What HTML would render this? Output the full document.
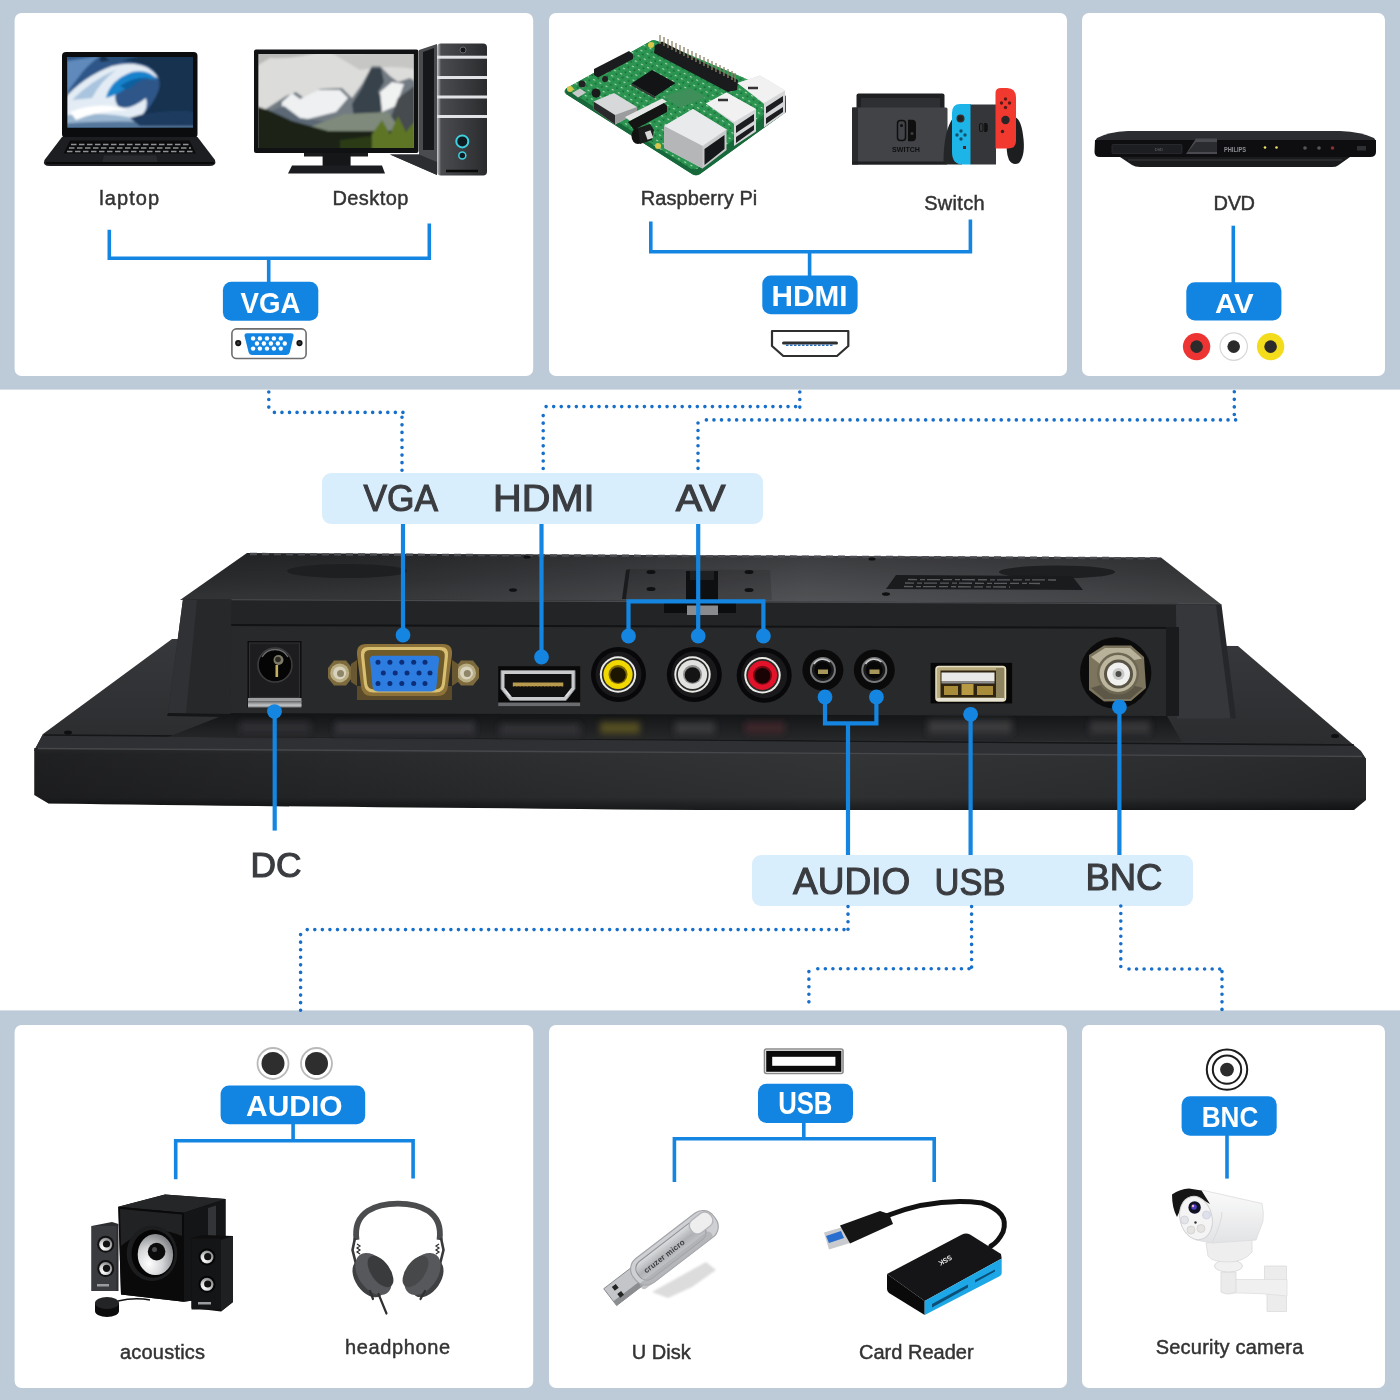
<!DOCTYPE html>
<html lang="en">
<head>
<meta charset="utf-8">
<title>Monitor interface connections</title>
<style>
html,body{margin:0;padding:0;background:#fff;}
body{width:1400px;height:1400px;overflow:hidden;font-family:"Liberation Sans",sans-serif;}
svg{display:block;}
text{font-family:"Liberation Sans",sans-serif;}
.lbl{font-size:20px;fill:#333;stroke:#333;stroke-width:.45;text-anchor:middle;}
.big{font-size:37.5px;fill:#3a3c40;stroke:#3a3c40;stroke-width:1.1;text-anchor:middle;}
.badge{font-size:29px;font-weight:700;fill:#fff;text-anchor:middle;}
.ln{stroke:#1486e2;stroke-width:3.6;fill:none;}
.ln2{stroke:#1486e2;stroke-width:4.2;fill:none;}
.dot{stroke:#186fca;stroke-width:3.6;stroke-linecap:round;stroke-dasharray:0 7.56;fill:none;}
</style>
</head>
<body>
<svg style="will-change:transform" width="1400" height="1400" viewBox="0 0 1400 1400">
<defs>

<linearGradient id="gSlab" x1="0" y1="0" x2="0" y2="1">
<stop offset="0" stop-color="#323335"/><stop offset=".1" stop-color="#2b2c2e"/><stop offset=".8" stop-color="#262729"/><stop offset=".9" stop-color="#1b1c1d"/><stop offset="1" stop-color="#121314"/>
</linearGradient>
<linearGradient id="gTopH" x1="0" y1="0" x2="0" y2="1">
<stop offset="0" stop-color="#000" stop-opacity=".22"/><stop offset=".5" stop-color="#000" stop-opacity=".05"/><stop offset="1" stop-color="#fff" stop-opacity=".04"/>
</linearGradient>
<linearGradient id="gSlabH" x1="0" y1="0" x2="1" y2="0">
<stop offset="0" stop-color="#000" stop-opacity=".28"/><stop offset=".25" stop-color="#000" stop-opacity=".05"/><stop offset=".6" stop-color="#fff" stop-opacity=".04"/><stop offset="1" stop-color="#000" stop-opacity=".06"/>
</linearGradient>
<linearGradient id="gBase" x1="0" y1="0" x2="0" y2="1">
<stop offset="0" stop-color="#37383b"/><stop offset="1" stop-color="#2a2b2d"/>
</linearGradient>
<linearGradient id="gTop" gradientUnits="userSpaceOnUse" x1="180" y1="0" x2="1226" y2="0">
<stop offset="0" stop-color="#2b2c2e"/><stop offset=".18" stop-color="#2f3032"/><stop offset=".42" stop-color="#3e3f42"/><stop offset=".6" stop-color="#4b4c4f"/><stop offset=".8" stop-color="#424346"/><stop offset="1" stop-color="#38393b"/>
</linearGradient>
<linearGradient id="gFloor" x1="0" y1="0" x2="0" y2="1">
<stop offset="0" stop-color="#131415"/><stop offset=".45" stop-color="#1d1e20"/><stop offset="1" stop-color="#28292b"/>
</linearGradient>
<filter id="b3" x="-20%" y="-50%" width="140%" height="200%"><feGaussianBlur stdDeviation="3"/></filter>
<filter id="b1" x="-10%" y="-10%" width="120%" height="120%"><feGaussianBlur stdDeviation="1"/></filter>
<filter id="b2" x="-10%" y="-10%" width="120%" height="120%"><feGaussianBlur stdDeviation="2"/></filter>

<linearGradient id="gSea" x1="0" y1="0" x2="1" y2="1">
<stop offset="0" stop-color="#7fa6cc"/><stop offset=".45" stop-color="#3f78ad"/><stop offset="1" stop-color="#16324f"/>
</linearGradient>
<linearGradient id="gSky" x1="0" y1="0" x2="0" y2="1">
<stop offset="0" stop-color="#c9c9c9"/><stop offset=".5" stop-color="#e4e4e2"/><stop offset="1" stop-color="#b9bdb8"/>
</linearGradient>
<linearGradient id="gTower" x1="0" y1="0" x2="1" y2="0">
<stop offset="0" stop-color="#c9cacc"/><stop offset=".08" stop-color="#4a4b4e"/><stop offset=".5" stop-color="#3c3d40"/><stop offset="1" stop-color="#2a2b2d"/>
</linearGradient>
<clipPath id="cLap"><rect x="67.5" y="57" width="125.5" height="70.5"/></clipPath>
<clipPath id="cMon"><rect x="258.6" y="54" width="155" height="94"/></clipPath>

<radialGradient id="gCone" cx=".32" cy=".72" r=".85">
<stop offset="0" stop-color="#ffffff"/><stop offset=".45" stop-color="#d4d5d7"/><stop offset="1" stop-color="#6f7174"/>
</radialGradient>
<linearGradient id="gUsbBody" x1="0" y1="0" x2="0" y2="1">
<stop offset="0" stop-color="#dcdddf"/><stop offset=".5" stop-color="#aeb0b3"/><stop offset="1" stop-color="#c9cacd"/>
</linearGradient>
<linearGradient id="gCam" x1="0" y1="0" x2="0" y2="1">
<stop offset="0" stop-color="#fbfbfb"/><stop offset="1" stop-color="#e2e3e5"/>
</linearGradient>
<pattern id="pSpeck" width="7" height="6" patternUnits="userSpaceOnUse" patternTransform="rotate(28)">
<rect x="1" y="1" width="2.2" height="1.1" fill="#d9ead9" opacity=".75"/><rect x="4.5" y="3.6" width="1.4" height="1.2" fill="#0f3d22" opacity=".8"/>
</pattern>
<clipPath id="cPcb"><path d="M650,41.5 Q653,39.5 657,41 L786,96 L697,169 Q694,171 690,169 L566,88.5 Z"/></clipPath>
<!--DEFS-->
</defs>

<!-- ===== bands and cards ===== -->
<rect x="0" y="0" width="1400" height="389.6" fill="#bdcad8"/>
<rect x="0" y="1010.4" width="1400" height="389.6" fill="#bdcad8"/>
<g fill="#fff">
<rect x="14.6" y="13" width="518.6" height="363" rx="7"/>
<rect x="549" y="13" width="518" height="363" rx="7"/>
<rect x="1082" y="13" width="303" height="363" rx="7"/>
<rect x="14.6" y="1025" width="518.6" height="363" rx="7"/>
<rect x="549" y="1025" width="518" height="363" rx="7"/>
<rect x="1082" y="1025" width="303" height="363" rx="7"/>
</g>


<!-- ===== card 1 : VGA sources ===== -->
<g id="card1">
<!-- laptop -->
<rect x="62" y="52" width="135.5" height="86" rx="4" fill="#0b0c0e"/>
<rect x="67.5" y="57" width="125.5" height="70.5" fill="url(#gSea)"/>
<g clip-path="url(#cLap)">
<g filter="url(#b1)">
<rect x="60" y="50" width="140" height="85" fill="#2f5788"/>
<path d="M60,62 L100,56 Q86,66 78,78 Q68,90 60,104 Z" fill="#5f8abb"/>
<path d="M100,50 L200,50 L200,135 L118,135 Q148,116 158,92 Q164,76 148,66 Q128,58 100,62 Z" fill="#14304f"/>
<path d="M100,50 L170,50 Q140,54 112,64 Z" fill="#2c517c"/>
<path d="M60,104 Q80,78 112,66 Q146,58 158,78 Q140,70 124,82 Q110,94 118,106 Q128,112 146,98 Q152,120 112,127 L60,135 Z" fill="#e3ecf4"/>
<path d="M72,100 Q92,80 116,70 Q100,82 92,98 Z" fill="#a9c4de"/>
<path d="M106,98 Q110,80 132,72 Q150,69 157,80 Q142,76 130,85 Q118,95 106,98 Z" fill="#1683cc"/>
<path d="M120,86 Q134,76 150,78 Q138,80 128,90 Z" fill="#0d5f9f"/>
<path d="M60,116 Q104,110 140,120 L200,116 L200,135 L60,135 Z" fill="#9ab6d0"/>
<path d="M60,124 Q110,119 200,124 L200,135 L60,135 Z" fill="#54779c"/>
<path d="M130,118 Q160,108 200,112 L200,126 L140,126 Z" fill="#1c3a5e"/>
<path d="M70,112 Q100,100 128,110 Q100,110 76,120 Z" fill="#ffffff"/>
</g>
</g>
<path d="M62,137 L197.5,137 L215,160 Q217,166 209,166 L50,166 Q42,166 44.5,160 Z" fill="#1d1e21"/>
<path d="M70,140.5 L189.5,140.5 L196,153.5 L63.5,153.5 Z" fill="#0c0c0d"/>
<path d="M71,144.5 L189,144.5 M69,148 L191,148 M67,151.5 L193,151.5" stroke="#8f9296" stroke-width="1.6" stroke-dasharray="5.5 2.5" fill="none"/>
<path d="M104,155.5 L156,155.5 L158,163 L102,163 Z" fill="#2a2b2f"/>
<path d="M46,163 L214,163" stroke="#090909" stroke-width="2"/>
<!-- desktop monitor -->
<rect x="254" y="49.5" width="164.5" height="103.5" rx="2" fill="#101113"/>
<rect x="258.6" y="54" width="155" height="94" fill="url(#gSky)"/>
<g clip-path="url(#cMon)">
<g filter="url(#b1)">
<rect x="250" y="48" width="170" height="105" fill="#dcdcda"/>
<path d="M250,48 L330,48 Q300,60 270,58 L250,70 Z" fill="#b9b9b7"/>
<path d="M330,52 Q360,56 380,50 L420,50 L420,70 Q390,64 360,70 Z" fill="#c6c6c4"/>
<path d="M258,114 L286,96 L296,92 L304,98 L320,89 L342,88 L352,98 L362,84 L372,66 L380,66 L390,76 L398,82 L410,78 L420,84 L420,150 L258,150 Z" fill="#727a82"/>
<path d="M282,102 L292,93 L300,99 L318,90 L340,90 L348,98 L336,112 L304,120 L282,114 Z" fill="#eef0f1"/>
<path d="M352,104 L362,88 L371,68 L381,68 L384,82 L378,92 L386,104 L374,120 L354,118 Z" fill="#39424b"/>
<path d="M380,92 L392,82 L404,84 L396,106 L382,112 Z" fill="#f0f1f1"/>
<path d="M398,98 L420,82 L420,142 L400,138 L390,120 Z" fill="#454b4f"/>
<path d="M268,112 L284,106 L300,118 L330,122 L310,132 L280,124 Z" fill="#5b6875"/>
<path d="M302,130 L344,114 L388,112 L398,126 L372,138 L322,138 Z" fill="#7f8a7c"/>
<path d="M250,104 L268,110 L292,121 L328,131 L420,131 L420,152 L250,152 Z" fill="#1a2214"/>
<path d="M372,134 L382,120 L390,134 L398,116 L406,132 L414,122 L420,128 L420,152 L372,152 Z" fill="#5f7428"/>
<path d="M340,140 L372,136 L372,150 L340,150 Z" fill="#2c3a18"/>
</g>
</g>
<rect x="304" y="153" width="64" height="3.5" fill="#1a1b1d"/>
<rect x="322.6" y="153" width="28" height="16" fill="#151618"/>
<path d="M292,165.5 L382,165.5 L385,173.5 L288,173.5 Z" fill="#1c1d20"/>
<!-- tower -->
<path d="M419,50 L437,44 L437,175 L390,154.5 L419,154.5 Z" fill="#4a4b4f"/>
<path d="M390,154.5 L419,154.5 L437,162 L437,175 Z" fill="#2c2d30"/>
<path d="M423,52 L434,48 L434,150 L423,150 Z" fill="#16171a"/>
<rect x="437" y="43.5" width="50" height="132" rx="4" fill="url(#gTower)"/>
<rect x="437" y="55.7" width="50" height="3" fill="#e1e3e6"/>
<rect x="437" y="76" width="50" height="3" fill="#e1e3e6"/>
<rect x="437" y="95.5" width="50" height="3" fill="#e1e3e6"/>
<rect x="437" y="115" width="50" height="3" fill="#e1e3e6"/>
<circle cx="462.3" cy="141.4" r="6" fill="#0e1c22" stroke="#3fd0e0" stroke-width="2"/>
<circle cx="462.3" cy="155.4" r="3.5" fill="#0e1c22" stroke="#3fd0e0" stroke-width="1.5"/>
<circle cx="463" cy="50" r="3" fill="#15161a" stroke="#777" stroke-width=".8"/>
<path d="M446,171 L478,171" stroke="#090909" stroke-width="2.5"/>
<!-- labels -->
<text class="lbl" x="129.2" y="205.3" textLength="60" lengthAdjust="spacing">laptop</text>
<text class="lbl" x="370.4" y="205.3" textLength="76" lengthAdjust="spacing">Desktop</text>
<path class="ln" d="M109.3,229.7 V258.2 H429.3 V223.5 M268.7,258.2 V283"/>
<rect x="222.9" y="281.8" width="95.4" height="38.9" rx="8.5" fill="#1285e2"/>
<text class="badge" x="270.6" y="313.2" textLength="60" lengthAdjust="spacingAndGlyphs" style="font-size:29.8px">VGA</text>
<!-- VGA icon -->
<rect x="231.9" y="328.9" width="74.2" height="29.6" rx="4.5" fill="#fff" stroke="#6d6d6d" stroke-width="1.6"/>
<path d="M247,333.3 L291,333.3 Q294.2,333.3 293.5,336.3 L289.8,352.3 Q289.2,354.9 286.4,354.9 L252,354.9 Q249.2,354.9 248.6,352.3 L244.6,336.3 Q243.9,333.3 247,333.3 Z" fill="#1285e2"/>
<g fill="#fff"><circle cx="253.1" cy="338.4" r="2.2"/><circle cx="259.9" cy="338.4" r="2.2"/><circle cx="267" cy="338.4" r="2.2"/><circle cx="273.9" cy="338.4" r="2.2"/><circle cx="280.8" cy="338.4" r="2.2"/><circle cx="257" cy="343.5" r="2.2"/><circle cx="263.9" cy="343.5" r="2.2"/><circle cx="270.9" cy="343.5" r="2.2"/><circle cx="277.9" cy="343.5" r="2.2"/><circle cx="284.8" cy="343.5" r="2.2"/><circle cx="253.1" cy="348.6" r="2.2"/><circle cx="259.9" cy="348.6" r="2.2"/><circle cx="267" cy="348.6" r="2.2"/><circle cx="273.9" cy="348.6" r="2.2"/><circle cx="280.8" cy="348.6" r="2.2"/></g>
<circle cx="238.2" cy="343.1" r="3.1" fill="#111"/><circle cx="238.2" cy="343.1" r="1.5" fill="#3a3a3a"/>
<circle cx="299.5" cy="343.1" r="3.1" fill="#111"/><circle cx="299.5" cy="343.1" r="1.5" fill="#3a3a3a"/>
</g>
<!--CARD1-->

<!-- ===== card 2 : HDMI sources ===== -->
<g id="card2">
<!-- raspberry pi -->
<g id="rpi">
<path d="M650,41.5 Q653,39.5 657,41 L786,96 L786,112 L700,174 Q696,176.5 692,174 L566,94 Q563,91.5 566,88.5 Z" fill="#1c7a3e"/>
<path d="M650,41.5 Q653,39.5 657,41 L786,96 L697,169 Q694,171 690,169 L566,88.5 Z" fill="#2a9450"/>
<path d="M566,89 L692,169.5 L697,169 L786,100 L786,112 L700,174 Q696,176.5 692,174 L566,94 Z" fill="#17683a"/>
<rect x="560" y="36" width="230" height="140" fill="url(#pSpeck)" clip-path="url(#cPcb)"/>
<circle cx="651" cy="45" r="3" fill="#d8c64a"/><circle cx="570" cy="89" r="3" fill="#d8c64a"/><circle cx="658" cy="146" r="3" fill="#d8c64a"/>
<!-- gpio header -->
<path d="M655,45.5 L662,41.5 L738,80 L737,90 L728,92 L654,53 Z" fill="#1a1b1d"/>
<path d="M660,44 V35 M664,46 V37 M668,48 V39 M672,50 V41 M676,52 V43 M680,54 V45 M684,56 V47 M688,58 V49 M692,60 V51 M696,62 V53 M700,64 V55 M704,66 V57 M708,68 V59 M712,70 V61 M716,72 V63 M720,74 V65 M724,76 V67 M728,78 V69 M732,80 V71 M735,82 V73" stroke="#8a8468" stroke-width="1.3" fill="none"/>
<!-- camera connector -->
<path d="M594,69 L629,51 L633,54.5 L633,59 L598,77.5 L594,75 Z" fill="#1b1c1e"/>
<!-- cpu -->
<path d="M631.5,83.5 L652,70 L675.5,83 L655,96.5 Z" fill="#131416"/>
<path d="M631.5,83.5 L655,96.5 L655,98.5 L631.5,85.5 Z" fill="#333"/>
<!-- small parts -->
<path d="M664,96 L690,88 L706,97 L680,108 Z" fill="#3f8f5a"/>
<circle cx="582" cy="84" r="3.5" fill="#222"/><circle cx="605" cy="79" r="3" fill="#222"/><circle cx="596" cy="93" r="4.5" fill="#1a1a1a"/>
<path d="M572,93 L580,88.5 L586,92.5 L578,97.5 Z" fill="#c9c9c9"/>
<!-- hdmi -->
<path d="M593.5,101.5 L614,93 L637,107 L637,113 L615,124.5 L593.5,109 Z" fill="#d7d8da"/>
<path d="M593.5,101.5 L615,115 L615,124.5 L593.5,109 Z" fill="#2a2a2c"/>
<path d="M615,115 L637,107 L637,113 L615,124.5 Z" fill="#9b9c9e"/>
<!-- csi + audio -->
<path d="M625,117 L662,98.5 L667,101.5 L630,121 Z" fill="#e6e6e6"/>
<path d="M628,122 L664,103 L667,106 L667,112 L634,130 Z" fill="#141414"/>
<ellipse cx="638" cy="136" rx="6.5" ry="8" fill="#111"/>
<path d="M638,128 L650,124 L654,130 L652,140 L640,144 Z" fill="#1c1c1c"/>
<rect x="646" y="131" width="6" height="8" fill="#d8d8d8" transform="rotate(-20 649 135)"/>
<!-- ethernet -->
<path d="M664,126 L693,109 L726.5,129.5 L726.5,150 L702.5,168.5 L664,148 Z" fill="#c8c9cb"/>
<path d="M664,126 L693,109 L726.5,129.5 L702.5,146 Z" fill="#e9eaeb"/>
<path d="M664,126 L702.5,146 L702.5,168.5 L664,148 Z" fill="#b5b6b8"/>
<path d="M704.5,149 L724.5,135 L724.5,149 L704.5,165 Z" fill="#16171a"/>
<!-- usb stacks -->
<path d="M706,103.5 L726.5,92.5 L756,109 L756,131.5 L734,146 L734,124 Z" fill="#d5d6d8"/>
<path d="M706,103.5 L726.5,92.5 L756,109 L734,122 Z" fill="#f1f1f2"/>
<path d="M736,126 L754,114 L754,121 L736,133 Z M736,137 L754,125 L754,130 L736,143 Z" fill="#1c1d20"/>
<path d="M737.5,83 L760,75.5 L785,90.5 L785,113 L764,127.5 L764,104 Z" fill="#d5d6d8"/>
<path d="M737.5,83 L760,75.5 L785,90.5 L764,103 Z" fill="#f1f1f2"/>
<path d="M766,107 L783,96 L783,102 L766,113.5 Z M766,118 L783,107 L783,112 L766,124 Z" fill="#1c1d20"/>
<path d="M718,100 h10 M748,88 h10" stroke="#333" stroke-width="2.5"/>
</g>
<!-- switch -->
<g id="switch">
<rect x="856.5" y="93.5" width="88" height="18" rx="2" fill="#1f2022"/>
<rect x="861" y="98" width="79" height="10" fill="#2e2f32"/>
<rect x="852" y="107.5" width="95.5" height="57" rx="1.5" fill="#424346"/>
<rect x="852" y="107.5" width="6" height="57" fill="#2a2b2d"/>
<rect x="852" y="161.5" width="95.5" height="3" fill="#1f2022"/>
<rect x="897.5" y="120.5" width="8" height="20" rx="3" fill="none" stroke="#0f0f10" stroke-width="1.5"/>
<path d="M908,119.7 h4 a4,4 0 0 1 4,4 v13.5 a4,4 0 0 1 -4,4 h-4 Z" fill="#0f0f10"/>
<circle cx="901.5" cy="125.5" r="1.5" fill="#0f0f10"/><circle cx="912" cy="133.5" r="1.5" fill="#3b3c3f"/>
<text x="906" y="152" font-size="6.5" font-weight="700" fill="#0f0f10" text-anchor="middle" textLength="28" lengthAdjust="spacingAndGlyphs">SWITCH</text>
<!-- grip -->
<path d="M953,118 Q944,130 943.5,160 Q943.5,165 950,164.5 L962,164.5 L962,118 Z" fill="#242527"/>
<path d="M1013,116 Q1021,118 1023,135 Q1026,155 1019,163 Q1013,166 1009,160 Q1005,150 1008,140 Z" fill="#1d1e20"/>
<path d="M960,104 L971,104 L971,164.5 L963,164.5 Q952,164.5 952,152 L952,113 Q952,104 960,104 Z" fill="#1db4e8"/>
<rect x="970.5" y="104.5" width="25.5" height="60" fill="#35363a"/>
<path d="M995.5,93 Q995.5,88 1001,88 L1007,88 Q1016,88 1016,98 L1016,141 Q1016,148.5 1008,148.5 L995.5,148.5 Z" fill="#f2392f"/>
<circle cx="960.5" cy="118.5" r="4" fill="#3a2f2c"/><circle cx="960.5" cy="118.5" r="2.5" fill="#222"/>
<circle cx="961" cy="131" r="1.7" fill="#14506a"/><circle cx="957" cy="135" r="1.7" fill="#14506a"/><circle cx="965" cy="135" r="1.7" fill="#14506a"/><circle cx="961" cy="139" r="1.7" fill="#14506a"/>
<rect x="963" y="146" width="3" height="3" fill="#5a1d1d"/>
<circle cx="1005.5" cy="99" r="1.7" fill="#5a1a17"/><circle cx="1001.5" cy="103" r="1.7" fill="#5a1a17"/><circle cx="1009.5" cy="103" r="1.7" fill="#5a1a17"/><circle cx="1005.5" cy="107.5" r="1.7" fill="#5a1a17"/>
<circle cx="1005.5" cy="120" r="4.2" fill="#2a2526"/><circle cx="1002.5" cy="131.5" r="1.7" fill="#33201f"/>
<rect x="979.5" y="123.5" width="3.5" height="8" rx="1.5" fill="none" stroke="#111" stroke-width="1"/>
<path d="M984.2,123 h1.5 a2,2 0 0 1 2,2 v5 a2,2 0 0 1 -2,2 h-1.5 Z" fill="#111"/>
</g>
<text class="lbl" x="699" y="205" textLength="116.6" lengthAdjust="spacing">Raspberry Pi</text>
<text class="lbl" x="954.4" y="209.5" textLength="60.3" lengthAdjust="spacing">Switch</text>
<path class="ln" d="M650.8,221.6 V251.8 H970.4 V219.5 M809.6,251.8 V277"/>
<rect x="762.3" y="275.4" width="95.3" height="38.9" rx="8.5" fill="#1285e2"/>
<text class="badge" x="809.5" y="306.2" textLength="76" lengthAdjust="spacingAndGlyphs" style="font-size:28.6px">HDMI</text>
<!-- HDMI icon -->
<path d="M772,331 H848.3 V346 L837,356 H783.3 L772,346 Z" fill="#fff" stroke="#2f2f2f" stroke-width="2.2" stroke-linejoin="round"/>
<path d="M783.5,343 H836.5" stroke="#2f2f2f" stroke-width="3" stroke-linecap="round"/>
<path d="M786,345.3 H834" stroke="#2a6fc0" stroke-width="1.4" stroke-dasharray="2.5 1.5"/>
</g>
<!--CARD2-->

<!-- ===== card 3 : AV source ===== -->
<g id="card3">
<path d="M1128,131 L1340,131 Q1362,132 1374,138 L1376,141 L1095,141 L1097,138 Q1108,132 1128,131 Z" fill="#2c2d30"/>
<path d="M1095,140 L1376,140 L1376,152 Q1376,157 1370,157 L1100,157 Q1094.5,157 1094.5,152 Z" fill="#0e0e10"/>
<path d="M1120,157 L1350,157 L1338,165.5 Q1336,167 1332,167 L1140,167 Q1135,167 1132,165 Z" fill="#1a1b1d"/>
<path d="M1128,160 L1342,160" stroke="#3c3d40" stroke-width="1"/>
<rect x="1112" y="144.5" width="70" height="9" rx="1" fill="#1d1e21" stroke="#2f3033" stroke-width=".7"/>
<path d="M1196,138.5 L1217,138.5 L1217,154 L1186,154 Z" fill="#4a4b50"/>
<path d="M1196,142 L1217,142 L1217,152 L1188,152 Z" fill="#2b2c30"/>
<text x="1235" y="151.5" font-size="6.5" font-weight="700" fill="#8d8f94" text-anchor="middle" textLength="22" lengthAdjust="spacingAndGlyphs">PHILIPS</text>
<text x="1159" y="151" font-size="4" fill="#6f7176" text-anchor="middle">DVD</text>
<circle cx="1265" cy="147.5" r="1.3" fill="#e8e36a"/><circle cx="1276.5" cy="147.5" r="1.3" fill="#e8e36a"/>
<circle cx="1305" cy="148" r="1.8" fill="#55565a"/><circle cx="1319" cy="148" r="1.8" fill="#55565a"/><circle cx="1332.5" cy="148" r="1.8" fill="#8a3030"/>
<rect x="1357" y="146" width="9" height="4.5" fill="#2f3034"/>
<text class="lbl" x="1234.3" y="210" textLength="41.5" lengthAdjust="spacing">DVD</text>
<path class="ln" d="M1233.3,225.7 V283"/>
<rect x="1186.3" y="282.3" width="95.1" height="38.3" rx="8.5" fill="#1285e2"/>
<text class="badge" x="1234.4" y="313" textLength="38.7" lengthAdjust="spacingAndGlyphs" style="font-size:27px">AV</text>
<circle cx="1196.6" cy="346.6" r="13.7" fill="#ee3432"/><circle cx="1196.6" cy="346.6" r="6.3" fill="#2b2b2b"/>
<circle cx="1233.7" cy="346.6" r="13.7" fill="#fff" stroke="#d7d7d7" stroke-width="1.2"/><circle cx="1233.7" cy="346.6" r="6.3" fill="#2b2b2b"/>
<circle cx="1270.6" cy="346.6" r="13.7" fill="#f3dc1b"/><circle cx="1270.6" cy="346.6" r="6.3" fill="#2b2b2b"/>
</g>
<!--CARD3-->

<!-- ===== monitor body ===== -->
<g id="monitor">
<!-- base (back of bezel) -->
<path d="M172,639 L1238,646 L1360,750.5 L1366,759 L34,751 L43,734 Z" fill="url(#gBase)"/>
<!-- rim -->
<path d="M43,734 L170,736 L1180,741 L1352,744 L1361,751 L1366,759 L34,751 Z" fill="#2f3033"/>
<path d="M44,735 L1354,745" stroke="#151617" stroke-width="1.6" fill="none"/>
<!-- front slab -->
<path d="M34.3,748 L1361,756 L1366,759 L1366,800 L1354,810 L700,810 Q300,807 48.6,803.5 L34.3,795 Z" fill="url(#gSlab)"/>
<path d="M34.3,748 L1361,756 L1366,759 L1366,800 L1354,810 L700,810 Q300,807 48.6,803.5 L34.3,795 Z" fill="url(#gSlabH)"/>
<path d="M38,748.5 L1362,756.5" stroke="#47484b" stroke-width="1.4" fill="none"/>
<!-- raised box: top surface -->
<path d="M247,553 L1161,557.5 L1222,605 L180,600 Z" fill="url(#gTop)"/>
<path d="M247,553 L1161,557.5 L1222,605 L180,600 Z" fill="url(#gTopH)"/>
<path d="M250,554 L1158,558.3" stroke="#4a4b50" stroke-width="2.4" stroke-dasharray="7 5" fill="none"/>
<!-- front face band -->
<path d="M183,599 L1220,604 L1222,628 L183,626 Z" fill="#232426"/>
<!-- recess back wall -->
<path d="M230,624 L1180,627 L1180,716 L229,714 Z" fill="#28292b"/>
<path d="M230,599 L1178,603 L1178,628 L230,625 Z" fill="#232426"/>
<path d="M182,599.5 L1220,604" stroke="#5a5b5e" stroke-width="1.2" fill="none" opacity=".7"/>
<path d="M230,625 L1178,628" stroke="#121314" stroke-width="2" fill="none"/>
<!-- floor in front of recess -->
<path d="M229,713 L1167,716 L1182,742 L168,737 Z" fill="url(#gFloor)"/>
<g filter="url(#b3)" opacity=".9">
<rect x="335" y="722" width="140" height="12" fill="#38393c"/>
<rect x="500" y="724" width="80" height="11" fill="#343538"/>
<rect x="600" y="722" width="40" height="12" fill="#5a5320"/>
<rect x="675" y="722" width="40" height="12" fill="#3d3e40"/>
<rect x="745" y="722" width="40" height="12" fill="#40282a"/>
<rect x="928" y="720" width="84" height="14" fill="#3c3d40"/>
<rect x="1090" y="721" width="60" height="13" fill="#38393b"/>
<rect x="240" y="722" width="70" height="11" fill="#303134"/>
</g>
<!-- left pillar -->
<path d="M183,599 L231.5,599 L230.5,714 L168,713 Z" fill="#27282a"/>
<path d="M183,599 L197,600 L186,713 L168,713 Z" fill="#303134"/>
<path d="M168,713 L229,714 L229,717 L167,716 Z" fill="#151617"/>
<!-- right pillar -->
<path d="M1210,605.2 L1221.5,604.8 L1236,718.4 L1224,718.4 Z" fill="#26272a"/>
<path d="M1176,604.5 L1216,605.2 L1230.5,718.4 L1177,718.4 Z" fill="#36373a"/>
<path d="M1166,627 L1179,627 L1179,716 L1166,716 Z" fill="#1a1b1d"/>
<!-- top surface details -->
<ellipse cx="347" cy="571" rx="60" ry="7" fill="#1e1f21"/>
<ellipse cx="1057" cy="572" rx="58" ry="6.5" fill="#1e1f21"/>
<path d="M896,575 L1072,576 L1083,590 L886,589 Z" fill="#1a1b1d"/>
<path d="M908,579.5 L1056,580 M905,583 L1040,583.5 M904,586.5 L1010,587" stroke="#5b5c60" stroke-width="1.3" stroke-dasharray="9 3 5 2 13 3" fill="none"/>
<!-- VESA mount -->
<path d="M630,569 L770,570 L772,600 L626,599 Z" fill="#000" opacity=".12"/>
<path d="M626,570 L630,569 L626,599 L622,599 Z" fill="#1a1b1d"/>
<path d="M686,571 L718,571 L718,600 L686,600 Z" fill="#0e0f10"/>
<rect x="690" y="571" width="24" height="9" fill="#1f2022"/>
<rect x="664" y="602" width="72" height="11" fill="#0c0d0e"/>
<rect x="687" y="605.5" width="31" height="9.5" fill="#8a8b8e"/>
<ellipse cx="651" cy="572" rx="4.5" ry="2" fill="#0f1011"/><ellipse cx="651" cy="589" rx="4.5" ry="2" fill="#0f1011"/>
<ellipse cx="749" cy="572" rx="4.5" ry="2" fill="#0f1011"/><ellipse cx="749" cy="590" rx="4.5" ry="2" fill="#0f1011"/>
<ellipse cx="513" cy="590" rx="4" ry="1.8" fill="#0f1011"/><ellipse cx="886" cy="594" rx="4" ry="1.8" fill="#0f1011"/>
<ellipse cx="527" cy="557" rx="3.5" ry="1.5" fill="#0f1011"/><ellipse cx="872" cy="559" rx="3.5" ry="1.5" fill="#0f1011"/>
<!-- screws on bezel -->
<ellipse cx="68" cy="732.5" rx="4" ry="2" fill="#0e0f10"/><ellipse cx="1335" cy="736" rx="4" ry="2" fill="#0e0f10"/>
</g>
<!--MONITOR-->

<!-- ===== ports ===== -->
<g id="ports">
<!-- DC jack -->
<rect x="247.5" y="641" width="54" height="67" fill="#0c0c0d"/>
<rect x="249.5" y="643" width="50" height="54.5" fill="#1d1d1f" stroke="#303032" stroke-width="1.2"/>
<circle cx="275" cy="665" r="17" fill="#050505" stroke="#3d3d3f" stroke-width="1.6"/>
<path d="M262,657 A15,15 0 0 1 288,657" stroke="#6c6c6e" stroke-width="1.4" fill="none"/>
<circle cx="278.5" cy="660" r="5" fill="#7d7a68"/><circle cx="278" cy="659.5" r="2.8" fill="#2c2a22"/>
<rect x="275.5" y="665" width="2.6" height="12" fill="#c4b15e"/>
<rect x="248" y="698" width="53.5" height="9.5" fill="#9c9ea0"/>
<rect x="248" y="701" width="53.5" height="1.5" fill="#6e7072"/><rect x="248" y="704.5" width="53.5" height="1.2" fill="#c9cacc"/>
<!-- VGA -->
<path d="M328,668 L334,660.5 L346,660.5 L352,668 L352,678 L346,685.5 L334,685.5 L328,678 Z" fill="#7d6b3e"/>
<circle cx="339.7" cy="672.9" r="9.5" fill="#b9ad84"/><circle cx="339.7" cy="672.9" r="6.5" fill="#d9d3bd"/><circle cx="340.5" cy="673.5" r="3.5" fill="#8f866a"/>
<path d="M455,668 L461,660.5 L473,660.5 L479,668 L479,678 L473,685.5 L461,685.5 L455,678 Z" fill="#7d6b3e"/>
<circle cx="466.5" cy="672.9" r="9.5" fill="#b9ad84"/><circle cx="466.5" cy="672.9" r="6.5" fill="#d9d3bd"/><circle cx="467.3" cy="673.5" r="3.5" fill="#8f866a"/>
<path d="M357,686 L452,686 L452,700 L357,700 Z" fill="#5c4b2b"/>
<path d="M351,664 L357,660 L357,686 L351,682 Z M458,664 L452,660 L452,686 L458,682 Z" fill="#6a5832"/>
<path d="M366,644 L443,644 Q453,644 452,655 L448,686 Q447,696 437,696 L372,696 Q362,696 361,686 L357,655 Q356,644 366,644 Z" fill="#8c7238"/>
<path d="M368,647 L441,647 Q449,647 448,656 L445,684 Q444,692.5 436,692.5 L373,692.5 Q365,692.5 364,684 L361,656 Q360,647 368,647 Z" fill="#d9bf72"/>
<path d="M370,650 L439,650 Q445.5,650 444.7,657 L442,683 Q441.3,689.5 435,689.5 L374,689.5 Q367.7,689.5 367,683 L364.3,657 Q363.5,650 370,650 Z" fill="#6f5a2a"/>
<path d="M374,655.7 L435,655.7 Q439.5,655.7 439,660 L436.5,686.5 Q436,691.4 431,691.4 L378,691.4 Q373,691.4 372.5,686.5 L370,660 Q369.5,655.7 374,655.7 Z" fill="#2d7de0"/>
<g fill="#0d2e78"><circle cx="378" cy="662.3" r="2.5"/><circle cx="389.9" cy="662.3" r="2.5"/><circle cx="401.8" cy="662.3" r="2.5"/><circle cx="413.7" cy="662.3" r="2.5"/><circle cx="425" cy="662.3" r="2.5"/><circle cx="383.3" cy="672.9" r="2.5"/><circle cx="395.2" cy="672.9" r="2.5"/><circle cx="407" cy="672.9" r="2.5"/><circle cx="419" cy="672.9" r="2.5"/><circle cx="430" cy="672.9" r="2.5"/><circle cx="378" cy="683.4" r="2.5"/><circle cx="389.9" cy="683.4" r="2.5"/><circle cx="401.8" cy="683.4" r="2.5"/><circle cx="413.7" cy="683.4" r="2.5"/><circle cx="425" cy="683.4" r="2.5"/></g>
<!-- HDMI -->
<rect x="498.2" y="666.2" width="82" height="40" fill="#09090a"/>
<rect x="498.2" y="702.5" width="82" height="3.7" fill="#6b6c6f"/>
<path d="M501,670.5 L575,670.5 L575,689 L566,700.5 L510,700.5 L501,689 Z" fill="#c9cacc" stroke="#85868a" stroke-width="1"/>
<path d="M504.5,674 L571.5,674 L571.5,687.5 L564,697 L512,697 L504.5,687.5 Z" fill="#111112"/>
<rect x="512.8" y="682.5" width="50.5" height="4" fill="#b79a4e"/>
<path d="M514,686.5 H562" stroke="#3a2d12" stroke-width="1.2" stroke-dasharray="2 1.5"/>
<path d="M506,691 L510,696 M570,691 L566,696" stroke="#e8e8ea" stroke-width="1.2"/>
<!-- RCA yellow -->
<circle cx="618.5" cy="674.5" r="27.5" fill="#08080a"/>
<circle cx="618.5" cy="674.5" r="23" fill="#19191b"/>
<circle cx="618" cy="674.5" r="18.2" fill="#e9e9e6"/>
<circle cx="618" cy="674.5" r="16.2" fill="#2a2a28"/>
<circle cx="618" cy="674.5" r="14.6" fill="#f0d800"/>
<circle cx="618" cy="674.5" r="9.500" fill="#7f6a00"/>
<circle cx="618" cy="675.0" r="7.8" fill="#1c1500"/>
<!-- RCA white -->
<circle cx="694.3" cy="674.5" r="27.5" fill="#08080a"/>
<circle cx="694.3" cy="674.5" r="23" fill="#19191b"/>
<circle cx="692.5" cy="674.5" r="18.2" fill="#e9e9e6"/>
<circle cx="692.5" cy="674.5" r="16.2" fill="#2a2a28"/>
<circle cx="692.5" cy="674.5" r="14.6" fill="#e2e2e0"/>
<circle cx="692.5" cy="674.5" r="9.500" fill="#8f8f8d"/>
<circle cx="692.5" cy="675.0" r="7.8" fill="#141414"/>
<!-- RCA red -->
<circle cx="764.2" cy="675.3" r="27.5" fill="#08080a"/>
<circle cx="764.2" cy="675.3" r="23" fill="#19191b"/>
<circle cx="762.5" cy="675.3" r="18.2" fill="#e9e9e6"/>
<circle cx="762.5" cy="675.3" r="16.2" fill="#2a2a28"/>
<circle cx="762.5" cy="675.3" r="14.6" fill="#e2122b"/>
<circle cx="762.5" cy="675.3" r="9.500" fill="#7a0813"/>
<circle cx="762.5" cy="675.8" r="7.8" fill="#1a0305"/>
<!-- audio jacks -->
<circle cx="822.9" cy="670" r="20.5" fill="#0a0a0b"/>
<circle cx="822.9" cy="670" r="12" fill="#1a1a1a" stroke="#77787a" stroke-width="2"/>
<circle cx="822.9" cy="670" r="8.5" fill="#070707"/>
<rect x="818" y="669.5" width="10" height="4.5" fill="#a8975a"/>
<path d="M814,664 A10.5,10.5 0 0 1 830,662" stroke="#c9cacc" stroke-width="1.5" fill="none"/>
<circle cx="874.3" cy="670" r="20.5" fill="#0a0a0b"/>
<circle cx="874.3" cy="670" r="12" fill="#1a1a1a" stroke="#77787a" stroke-width="2"/>
<circle cx="874.3" cy="670" r="8.5" fill="#070707"/>
<rect x="869.5" y="669.5" width="10" height="4.5" fill="#a8975a"/>
<path d="M865.5,664 A10.5,10.5 0 0 1 881.5,662" stroke="#c9cacc" stroke-width="1.5" fill="none"/>
<!-- USB -->
<rect x="930.6" y="662.9" width="81.5" height="40.5" fill="#070708"/>
<rect x="936" y="666.5" width="69.5" height="34.5" rx="3" fill="#b9ab7c" stroke="#e6dfc4" stroke-width="1.5"/>
<rect x="940.5" y="670.5" width="60.5" height="27" fill="#2f2410"/>
<rect x="941.5" y="672.5" width="53" height="9" fill="#e9e9e7"/>
<rect x="941.5" y="681.5" width="53" height="2" fill="#8d8e90"/>
<rect x="944" y="686" width="14" height="9" fill="#a98c3a"/><rect x="961.5" y="684" width="12" height="11" fill="#b89a44"/><rect x="977" y="686" width="16" height="9" fill="#a98c3a"/>
<rect x="996" y="668" width="8" height="31" fill="#8f8460"/>
<rect x="937" y="698" width="67" height="3" fill="#e8e4d4"/>
<!-- BNC -->
<circle cx="1115.7" cy="672.9" r="35.7" fill="#0b0b0c"/>
<path d="M1089,655 L1104,645.5 L1131,645.5 L1144,657 L1146,688 L1131,701 L1104,701.5 L1089,690 Z" fill="#7c745d"/>
<path d="M1091,657 L1105,648 L1130,648 L1142,658.5 L1125,662 L1100,664 Z" fill="#b9b29a"/>
<path d="M1091,688 L1104,699 L1130,699 L1143,688 L1128,684 L1104,684 Z" fill="#5d5747"/>
<circle cx="1118" cy="673.5" r="21" fill="#6e6753"/>
<circle cx="1118" cy="673.5" r="18.5" fill="#bdb69e"/>
<circle cx="1118.5" cy="674" r="14.5" fill="#595445"/>
<circle cx="1118.5" cy="674" r="11.5" fill="#f1f1ef"/>
<circle cx="1118.5" cy="674" r="6" fill="#c9c9c7"/>
<circle cx="1118.5" cy="674" r="3" fill="#4d4d4b"/>
</g>
<!--PORTS-->

<!-- ===== labels / leader lines ===== -->
<g id="labels">
<rect x="322" y="473" width="441" height="51" rx="9" fill="#d9eefc"/>
<rect x="752" y="855" width="441" height="51" rx="9" fill="#d9eefc"/>
<text class="big" x="400.8" y="511.2" textLength="74.5" lengthAdjust="spacingAndGlyphs">VGA</text>
<text class="big" x="543.8" y="511.2" textLength="101.5" lengthAdjust="spacingAndGlyphs">HDMI</text>
<text class="big" x="700.7" y="511.2" textLength="49.7" lengthAdjust="spacingAndGlyphs">AV</text>
<text class="big" x="851.6" y="893.7" textLength="117.3" lengthAdjust="spacingAndGlyphs">AUDIO</text>
<text class="big" x="970" y="895.4" textLength="71" lengthAdjust="spacingAndGlyphs">USB</text>
<text class="big" x="1123.9" y="890.4" textLength="77" lengthAdjust="spacingAndGlyphs">BNC</text>
<text class="big" x="275.9" y="876.9" textLength="51" lengthAdjust="spacingAndGlyphs" style="font-size:34.5px">DC</text>
<g class="ln2">
<path d="M403,524 V635"/>
<path d="M541.5,524 V657"/>
<path d="M698.2,524 V636 M628.5,636 V601.4 H763.4 V636"/>
<path d="M274.7,712 V830.6"/>
<path d="M825,697 V723.4 H876.4 V697 M848,723.4 V855"/>
<path d="M970.6,714 V855"/>
<path d="M1119.4,707 V855"/>
</g>
<g fill="#1486e2">
<circle cx="403" cy="635" r="7.4"/><circle cx="541.5" cy="657" r="7.4"/>
<circle cx="628.5" cy="636" r="7.4"/><circle cx="698.2" cy="636" r="7.4"/><circle cx="763.4" cy="636" r="7.4"/>
<circle cx="274.5" cy="711.6" r="7.4"/>
<circle cx="825" cy="697" r="7.4"/><circle cx="876.4" cy="697" r="7.4"/>
<circle cx="970.6" cy="714.3" r="7.4"/><circle cx="1119.4" cy="707" r="7.4"/>
</g>
<g class="dot">
<path d="M268.8,392 V408 M274.4,412.4 H404 M402,417.3 V471"/>
<path d="M799.8,392 V408 M795.6,406.6 H544 M543.2,415.6 V469"/>
<path d="M1234.3,391.8 V415 M1235.6,419.9 H705 M698,423 V469"/>
<path d="M848,906.6 V931 M844,929.6 H305 M300.6,934.6 V1012"/>
<path d="M971.6,906.6 V969 M969,968.7 H815 M808.9,971.6 V1003"/>
<path d="M1120.8,906 V967.5 M1129,969 H1221 M1222,971.6 V1011"/>
</g>
</g>
<!--LABELS-->

<!-- ===== card 4 : AUDIO ===== -->
<g id="card4">
<circle cx="273" cy="1063.5" r="15.5" fill="#fff" stroke="#b9b9b9" stroke-width="1.8"/><circle cx="273" cy="1063.5" r="11.5" fill="#2e2e2e"/>
<circle cx="316.5" cy="1063.5" r="15.5" fill="#fff" stroke="#b9b9b9" stroke-width="1.8"/><circle cx="316.5" cy="1063.5" r="11.5" fill="#2e2e2e"/>
<rect x="220.6" y="1085.6" width="144.6" height="38.7" rx="8.5" fill="#1285e2"/>
<text class="badge" x="294.3" y="1116.3" textLength="96.5" lengthAdjust="spacingAndGlyphs" style="font-size:30px">AUDIO</text>
<path class="ln" d="M293.1,1123 V1140.8 M175.7,1179.3 V1140.8 H413.1 V1178.4"/>
<!-- speakers -->
<g id="speakers">
<path d="M118.3,1206.8 L165,1194.4 L225.5,1199 L225.5,1296 L183.7,1301.7 L121,1294.6 Z" fill="#0d0d0e"/>
<path d="M118.3,1206.8 L165,1194.4 L225.5,1199 L183.7,1212.7 Z" fill="#252628"/>
<path d="M183.7,1212.7 L225.5,1199 L225.5,1296 L183.7,1301.7 Z" fill="#141516"/>
<path d="M118.3,1206.8 L183.7,1212.7 L183.7,1301.7 L121,1294.6 Z" fill="#0a0a0b"/>
<path d="M120,1209 L182,1214.5 L182,1236 Q150,1222 121,1246 Z" fill="#2a2b2e" opacity=".75"/>
<ellipse cx="152" cy="1253.4" rx="25.3" ry="27.7" fill="#1c1d1f"/>
<ellipse cx="153" cy="1253.8" rx="21.5" ry="24" fill="#050505"/>
<ellipse cx="155.4" cy="1254.5" rx="17.7" ry="20.6" fill="url(#gCone)"/>
<circle cx="156.6" cy="1251.6" r="8.8" fill="#0b0b0c"/>
<circle cx="154.5" cy="1249.5" r="2.5" fill="#4a4b4e"/>
<path d="M208,1208 L216,1205.5 L216,1236 L208,1237 Z" fill="#333437"/>
<!-- left sat -->
<path d="M91.5,1226 L112,1222 L118.5,1224 L118.5,1291 L91.5,1291 Z" fill="#2c2d30"/>
<rect x="91.5" y="1226" width="25" height="65" fill="#3a3b3f"/>
<circle cx="105.7" cy="1244.3" r="8.5" fill="#111"/><circle cx="105.7" cy="1244.3" r="6.5" fill="url(#gCone)"/><circle cx="106.5" cy="1244" r="3.6" fill="#111"/>
<circle cx="105.7" cy="1268.6" r="8.5" fill="#111"/><circle cx="105.7" cy="1268.6" r="6.5" fill="url(#gCone)"/><circle cx="106.5" cy="1268.3" r="3.6" fill="#111"/>
<rect x="97" y="1284" width="12" height="2.5" fill="#9a9c9f"/>
<!-- right sat -->
<path d="M191.5,1238 L203,1235 L233,1236 L233,1302 L221,1311.5 L191.5,1308 Z" fill="#0e0e0f"/>
<path d="M221,1240 L233,1236 L233,1302 L221,1311.5 Z" fill="#1f2022"/>
<rect x="191.5" y="1238.5" width="29.5" height="71" fill="#141516"/>
<circle cx="207" cy="1257" r="8.5" fill="#050505"/><circle cx="207" cy="1257" r="6.5" fill="url(#gCone)"/><circle cx="207.7" cy="1256.7" r="3.6" fill="#111"/>
<circle cx="207" cy="1284.3" r="8.5" fill="#050505"/><circle cx="207" cy="1284.3" r="6.5" fill="url(#gCone)"/><circle cx="207.7" cy="1284" r="3.6" fill="#111"/>
<rect x="198" y="1302" width="13" height="2.5" fill="#9a9c9f"/>
<!-- knob -->
<path d="M118,1301 Q135,1297 150,1300" stroke="#111" stroke-width="1.5" fill="none"/>
<path d="M95,1303 L95,1311 A12,6 0 0 0 119,1311 L119,1303 Z" fill="#0c0c0d"/>
<ellipse cx="107" cy="1303" rx="12" ry="6" fill="#232426"/>
</g>
<!-- headphones -->
<g id="headphone">
<path d="M356.5,1240 C352.5,1211 377,1203.6 398,1203.6 C419,1203.6 443.5,1211 439.5,1240" fill="none" stroke="#4b4c4e" stroke-width="5.8" stroke-linecap="butt"/>
<path d="M355,1238 L352.5,1250 L357,1268 M441,1238 L443.5,1250 L439,1268" stroke="#38393b" stroke-width="2.6" fill="none" stroke-linejoin="round"/>
<path d="M357,1244 l3,2 l-3,2 l3,2 l-3,2 l3,2 M439,1244 l-3,2 l3,2 l-3,2 l3,2 l-3,2" stroke="#2c2d2f" stroke-width="1.2" fill="none"/>
<ellipse cx="368.5" cy="1278.5" rx="13" ry="21" transform="rotate(-35 368.5 1278.5)" fill="#3f4042"/>
<ellipse cx="373.5" cy="1274" rx="15" ry="23.5" transform="rotate(-35 373.5 1274)" fill="#57585b"/>
<ellipse cx="380.5" cy="1271.5" rx="9.5" ry="18" transform="rotate(-35 380.5 1271.5)" fill="#3a3b3d"/>
<ellipse cx="427.5" cy="1278.5" rx="13" ry="21" transform="rotate(35 427.5 1278.5)" fill="#3f4042"/>
<ellipse cx="422.5" cy="1274" rx="15" ry="23.5" transform="rotate(35 422.5 1274)" fill="#57585b"/>
<ellipse cx="415.5" cy="1271.5" rx="9.5" ry="18" transform="rotate(35 415.5 1271.5)" fill="#47484a"/>
<path d="M370,1291 L373,1299 M378.5,1294 L386.5,1313.5 M425,1291 L420.5,1299" stroke="#2f3032" stroke-width="2.2" fill="none" stroke-linecap="round"/>
</g>
<text class="lbl" x="162.5" y="1358.5" textLength="85" lengthAdjust="spacing">acoustics</text>
<text class="lbl" x="397.5" y="1354" textLength="105" lengthAdjust="spacing">headphone</text>
</g>
<!--CARD4-->

<!-- ===== card 5 : USB ===== -->
<g id="card5">
<rect x="764.5" y="1049" width="78.5" height="24.5" rx="2" fill="#fff" stroke="#8a8a8a" stroke-width="1.6"/>
<rect x="769.2" y="1053.8" width="69.2" height="15" fill="#fff" stroke="#0a0a0a" stroke-width="6"/>
<rect x="758" y="1083.7" width="95" height="39.2" rx="8.5" fill="#1285e2"/>
<text class="badge" x="805.3" y="1113.9" textLength="54.3" lengthAdjust="spacingAndGlyphs" style="font-size:32px">USB</text>
<path class="ln" d="M803.8,1122 V1138.8 M674.4,1182 V1138.8 H934.2 V1182"/>
<!-- u disk -->
<g id="udisk">
<path d="M652,1292 L706,1262 L716,1270 L692,1287 L668,1298 Z" fill="#dcdcdc" filter="url(#b1)"/>
<g transform="translate(662.5 1257) rotate(-37.5) scale(.885)">
<rect x="-74.5" y="-12" width="38" height="24" fill="#c3c5c8" stroke="#85878a" stroke-width="1"/>
<rect x="-74.5" y="6" width="38" height="6" fill="#8b8d90"/>
<rect x="-66" y="-8" width="5.5" height="5.5" fill="#242424"/><rect x="-66" y="2" width="5.5" height="5.5" fill="#242424"/>
<rect x="-40" y="-17" width="114" height="34" rx="15" fill="#cfd0d3" stroke="#a2a4a7" stroke-width="1.3"/>
<rect x="-34" y="-12" width="92" height="24" rx="10" fill="url(#gUsbBody)" stroke="#8f9194" stroke-width="1.1"/>
<rect x="-40" y="8" width="100" height="9" rx="4" fill="#a9abae" opacity=".7"/>
<rect x="44" y="-13" width="28" height="18" rx="8" fill="#eeeeef" stroke="#b4b6b9" stroke-width="1.6"/>
<text x="2" y="3.5" font-size="9" fill="#3f4144" text-anchor="middle" textLength="56" lengthAdjust="spacing" font-family="Liberation Mono, monospace" font-weight="700">cruzer micro</text>
</g>
</g>
</g>
<!-- card reader -->
<g id="reader">
<path d="M886,1216 Q935,1197 982,1203 Q1010,1212 1003,1232 Q998,1242 991,1246" fill="none" stroke="#111" stroke-width="5" stroke-linecap="round"/>
<path d="M824,1232.5 L843,1227 L850,1243 L829,1249.5 Z" fill="#c8cacd"/>
<path d="M826,1236 L841,1231 L844,1238 L829,1243 Z" fill="#2a6fd0"/>
<path d="M840,1225.5 L880,1211 L889,1214 L893,1224 L850,1243.5 Z" fill="#151516"/>
<path d="M887,1274 L962,1234.5 Q966,1232.5 970,1234.5 L1001,1254 L1001.7,1258.6 L924.7,1301 Z" fill="#151517"/>
<path d="M887,1274 L924.7,1301 L924.7,1315 L889,1293 Q887,1291.5 887,1289 Z" fill="#0a0a0b"/>
<path d="M924.7,1301 L1001.7,1258.6 L1001.7,1273 Q1001.7,1275 1000,1276 L924.7,1315 Z" fill="#1da7e6"/>
<path d="M932,1304 L968,1284.5 L968,1287.5 L932,1307.5 Z M975,1280 L995,1269.5 L995,1271.5 L975,1282.5 Z" fill="#0c4f78"/>
<text x="945" y="1262" font-size="7" font-weight="700" fill="#e8e8e8" text-anchor="middle" transform="rotate(150 945 1260)">SSK</text>
</g>
<text class="lbl" x="661.2" y="1359" textLength="59" lengthAdjust="spacing">U Disk</text>
<text class="lbl" x="916.3" y="1359" textLength="114.6" lengthAdjust="spacing">Card Reader</text>
</g>
<!--CARD5-->

<!-- ===== card 6 : BNC ===== -->
<g id="card6">
<circle cx="1227" cy="1069.6" r="20.2" fill="#fff" stroke="#1c1c1c" stroke-width="2"/>
<circle cx="1227" cy="1069.6" r="14.2" fill="#fff" stroke="#1c1c1c" stroke-width="2"/>
<circle cx="1227" cy="1069.6" r="6.9" fill="#2c2c2c"/>
<rect x="1181.6" y="1096.2" width="95.1" height="39.5" rx="8.5" fill="#1285e2"/>
<text class="badge" x="1230" y="1126.6" textLength="56.6" lengthAdjust="spacingAndGlyphs" style="font-size:29.6px">BNC</text>
<path class="ln" d="M1227,1135 V1178.6"/>
<!-- camera -->
<g id="camera">
<path d="M1264.5,1266 L1286.5,1266 L1286.5,1311.5 L1267,1311.5 L1267,1296 L1264.5,1280 Z" fill="#ececed" stroke="#dcdcde" stroke-width=".8"/>
<path d="M1223,1279.5 L1287,1279.5 L1287,1296 Q1262,1293 1240,1293 L1232,1293 Z" fill="#f0f0f1" stroke="#dedee0" stroke-width=".8"/>
<path d="M1221,1272 L1236,1272 L1236,1292 Q1228,1296 1221,1292 Z" fill="#ebebec" stroke="#d9d9db" stroke-width=".8"/>
<ellipse cx="1228.5" cy="1266" rx="14" ry="6" fill="#f1f1f2" stroke="#d6d6d8" stroke-width=".8"/>
<path d="M1206,1243 L1252,1236 L1252,1252 Q1244,1262 1228,1262 Q1212,1262 1208,1256 Z" fill="#eeeeef" stroke="#dadadc" stroke-width=".8"/>
<path d="M1201.5,1190 L1262,1203.5 Q1264,1212 1263,1221 L1256,1240 L1212,1243 L1196,1240 Z" fill="url(#gCam)" stroke="#dcdcde" stroke-width=".8"/>
<path d="M1172,1194.5 Q1180,1189 1189,1188.5 L1201.5,1190.5 L1210,1204 L1196,1196 Q1186,1198 1181,1208 L1177,1217 Q1172,1208 1172,1194.5 Z" fill="#151516"/>
<ellipse cx="1196" cy="1218" rx="16" ry="22" transform="rotate(-14 1196 1218)" fill="#f4f4f5" stroke="#d2d2d4" stroke-width="1"/>
<circle cx="1194.6" cy="1207.5" r="6.2" fill="#121225"/><circle cx="1194" cy="1207" r="2.8" fill="#4b3fbf"/><circle cx="1193" cy="1206" r="1.2" fill="#f4b6c8"/>
<circle cx="1184.5" cy="1220" r="4" fill="#e3e3ea" stroke="#cfcfd6" stroke-width=".8"/>
<circle cx="1206.5" cy="1215" r="4" fill="#dfe0ee" stroke="#cfcfd6" stroke-width=".8"/>
<circle cx="1191" cy="1230" r="4" fill="#e6e3e3" stroke="#d3cfcf" stroke-width=".8"/>
<circle cx="1201" cy="1228.5" r="4" fill="#e6e3e3" stroke="#d3cfcf" stroke-width=".8"/>
<circle cx="1195.5" cy="1222.5" r="1.2" fill="#333"/>
<path d="M1212,1243 Q1222,1222 1222,1212" fill="none" stroke="#dcdcde" stroke-width="1"/>
</g>
<text class="lbl" x="1229.5" y="1353.7" textLength="147.7" lengthAdjust="spacing">Security camera</text>
</g>
<!--CARD6-->
</svg>
</body>
</html>
